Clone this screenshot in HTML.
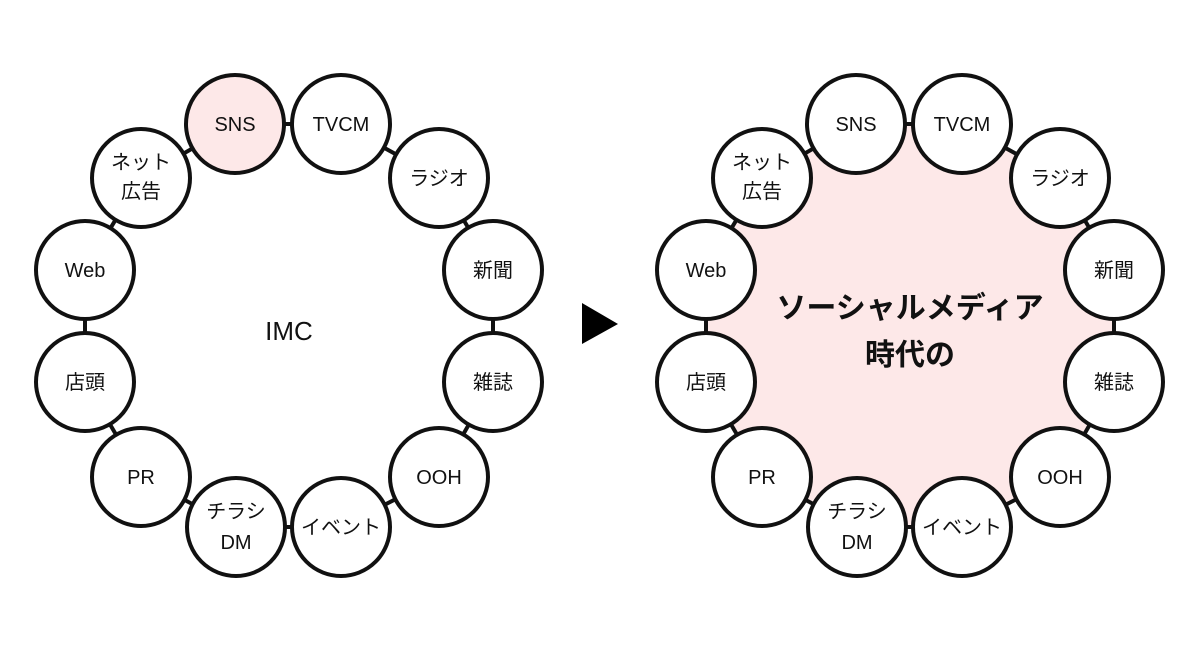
<!DOCTYPE html>
<html><head><meta charset="utf-8"><style>
html,body{margin:0;padding:0;background:#fff}
svg{display:block}
text{font-family:"Liberation Sans","Noto Sans CJK JP",sans-serif;fill:#111;text-anchor:middle}
</style></head><body>
<svg width="1200" height="648" viewBox="0 0 1200 648" xmlns="http://www.w3.org/2000/svg">
<g id="L">
<polygon points="235,124 341,124 439,178 493,270 493,382 439,477 341,527 236,527 141,477 85,382 85,270 141,178" fill="none" stroke="#111" stroke-width="4"/>
<g stroke="#111" stroke-width="4" fill="#fff">
<circle cx="235" cy="124" r="49" fill="#fde8e8"/>
<circle cx="341" cy="124" r="49"/>
<circle cx="439" cy="178" r="49"/>
<circle cx="493" cy="270" r="49"/>
<circle cx="493" cy="382" r="49"/>
<circle cx="439" cy="477" r="49"/>
<circle cx="341" cy="527" r="49"/>
<circle cx="236" cy="527" r="49"/>
<circle cx="141" cy="477" r="49"/>
<circle cx="85" cy="382" r="49"/>
<circle cx="85" cy="270" r="49"/>
<circle cx="141" cy="178" r="49"/>
</g>
<g font-size="20">
<text x="235" y="131">SNS</text>
<text x="341" y="131">TVCM</text>
<text x="439" y="185">ラジオ</text>
<text x="493" y="277">新聞</text>
<text x="493" y="389">雑誌</text>
<text x="439" y="484">OOH</text>
<text x="341" y="534">イベント</text>
<text x="236" y="518">チラシ</text>
<text x="236" y="549">DM</text>
<text x="141" y="484">PR</text>
<text x="85" y="389">店頭</text>
<text x="85" y="277">Web</text>
<text x="141" y="169">ネット</text>
<text x="141" y="198">広告</text>
</g>
<text x="289" y="340" font-size="26">IMC</text>
</g>
<polygon points="582,303 618,324 582,344" fill="#000"/>
<g id="R" transform="translate(621,0)">
<polygon points="235,124 341,124 439,178 493,270 493,382 439,477 341,527 236,527 141,477 85,382 85,270 141,178" fill="#fde8e8" stroke="#111" stroke-width="4"/>
<g stroke="#111" stroke-width="4" fill="#fff">
<circle cx="235" cy="124" r="49"/>
<circle cx="341" cy="124" r="49"/>
<circle cx="439" cy="178" r="49"/>
<circle cx="493" cy="270" r="49"/>
<circle cx="493" cy="382" r="49"/>
<circle cx="439" cy="477" r="49"/>
<circle cx="341" cy="527" r="49"/>
<circle cx="236" cy="527" r="49"/>
<circle cx="141" cy="477" r="49"/>
<circle cx="85" cy="382" r="49"/>
<circle cx="85" cy="270" r="49"/>
<circle cx="141" cy="178" r="49"/>
</g>
<g font-size="20">
<text x="235" y="131">SNS</text>
<text x="341" y="131">TVCM</text>
<text x="439" y="185">ラジオ</text>
<text x="493" y="277">新聞</text>
<text x="493" y="389">雑誌</text>
<text x="439" y="484">OOH</text>
<text x="341" y="534">イベント</text>
<text x="236" y="518">チラシ</text>
<text x="236" y="549">DM</text>
<text x="141" y="484">PR</text>
<text x="85" y="389">店頭</text>
<text x="85" y="277">Web</text>
<text x="141" y="169">ネット</text>
<text x="141" y="198">広告</text>
</g>
<text x="289" y="318" font-size="30" font-weight="bold">ソーシャルメディア</text>
<text x="289" y="365" font-size="30" font-weight="bold">時代の</text>
</g>
</svg>
</body></html>
